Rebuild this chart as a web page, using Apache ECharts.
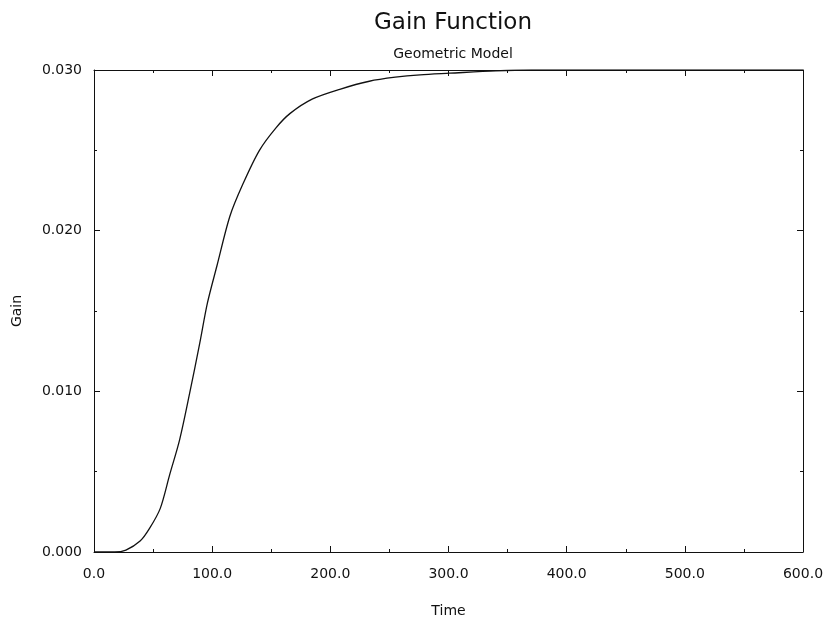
<!DOCTYPE html>
<html>
<head>
<meta charset="utf-8">
<script src="https://cdn.jsdelivr.net/npm/echarts@6/dist/echarts.min.js"></script>
<style>
  html, body { margin: 0; padding: 0; background: #fff; }
  #main { width: 828px; height: 623px; }
</style>
</head>
<body>
<div id="main"></div>
<script>
var time = [0, 17.5, 27, 39, 47, 56, 64, 72.5, 81, 89.5, 96, 104, 115, 126, 140, 154, 166, 185, 208, 233, 255, 276, 301, 340, 370, 400, 500, 600];
var gain = [0, 0, 0.00012, 0.00068, 0.00147, 0.0027, 0.0048, 0.0070, 0.0099, 0.0130, 0.0155, 0.0178, 0.0209, 0.0229, 0.0250, 0.0264, 0.0273, 0.0282, 0.0288, 0.0293, 0.02955, 0.0297, 0.0298, 0.02995, 0.0300, 0.0300, 0.0300, 0.0300];

var font = 'DejaVu Sans';
var ink = '#111';

var points = time.map(function (t, i) { return [t, gain[i]]; });

var myChart = echarts.init(document.getElementById('main'));

// every side of the box gets its own axis, kept off the zero line
function boxAxis(extra) {
  return Object.assign({
    axisLine: { show: true, onZero: false, lineStyle: { color: ink, width: 1 } },
    axisTick: { show: true, inside: true, length: 6, lineStyle: { color: ink } },
    minorTick: { show: true, splitNumber: 2, length: 3, lineStyle: { color: ink } },
    splitLine: { show: false }
  }, extra);
}

myChart.setOption({
  backgroundColor: '#fff',
  animation: false,
  title: [
    { text: 'Gain Function', left: 448, top: 7, textAlign: 'center',
      textStyle: { fontFamily: font, fontSize: 23, fontWeight: 'normal', color: ink } },
    { text: 'Geometric Model', left: 448, top: 42, textAlign: 'center',
      textStyle: { fontFamily: font, fontSize: 14, fontWeight: 'normal', color: ink } }
  ],
  grid: { left: 94, right: 25, top: 70, bottom: 69 },
  xAxis: [
    boxAxis({
      type: 'value', min: 0, max: 600, interval: 100, position: 'bottom',
      name: 'Time', nameLocation: 'middle', nameGap: 52,
      nameTextStyle: { fontFamily: font, fontSize: 14, color: ink },
      axisLabel: { margin: 15, fontFamily: font, fontSize: 14, color: ink,
        formatter: function (v) { return v.toFixed(1); } }
    }),
    boxAxis({
      type: 'value', min: 0, max: 600, interval: 100, position: 'top',
      axisLabel: { show: false }
    })
  ],
  yAxis: [
    boxAxis({
      type: 'value', min: 0, max: 0.03, interval: 0.01, position: 'left',
      name: 'Gain', nameLocation: 'middle', nameGap: 70, nameRotate: 90,
      nameTextStyle: { fontFamily: font, fontSize: 14, color: ink },
      axisLabel: { margin: 12, fontFamily: font, fontSize: 14, color: ink,
        formatter: function (v) { return v.toFixed(3); } }
    }),
    boxAxis({
      type: 'value', min: 0, max: 0.03, interval: 0.01, position: 'right',
      axisLabel: { show: false }
    })
  ],
  series: [{
    type: 'line',
    data: points,
    smooth: 0.3,
    showSymbol: false,
    lineStyle: { color: ink, width: 1.3 }
  }]
});
</script>
</body>
</html>
